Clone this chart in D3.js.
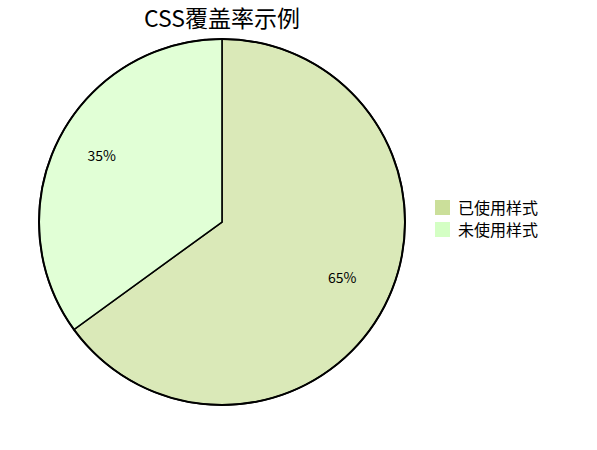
<!DOCTYPE html>
<html>
<head>
<meta charset="utf-8">
<script src="https://cdn.jsdelivr.net/npm/d3@7"></script>
<style>
  body { margin: 0; background: #fff; }
  text { font-family: "Noto Sans CJK SC", "Noto Sans", sans-serif; }
</style>
</head>
<body>
<div class="chart"></div>
<script>
// coverage data
var labels = ['已使用样式', '未使用样式'];
var values = [65, 35];
var colors = ['#cbdf9a', '#d4ffc4'];

var width = 597, height = 450;
var cx = 222, cy = 222, radius = 183;

var svg = d3.select('.chart')
  .append('svg')
    .attr('width', width)
    .attr('height', height);

svg.append('text')
  .attr('x', cx)
  .attr('y', 27)
  .attr('text-anchor', 'middle')
  .style('font-size', '23px')
  .text('CSS覆盖率示例');

var color = d3.scaleOrdinal().domain(labels).range(colors);

var pie = d3.pie().sort(null).value(function(d, i) { return values[i]; });
var arcs = pie(labels);

var arc = d3.arc().innerRadius(0).outerRadius(radius);
var labelArc = d3.arc().innerRadius(135).outerRadius(135);

var g = svg.append('g')
  .attr('transform', `translate(${cx}, ${cy})`);

g.selectAll('path.slice')
  .data(arcs)
  .enter().append('path')
    .attr('class', 'slice')
    .attr('d', arc)
    .style('fill', function(d) { return color(d.data); })
    .style('fill-opacity', 0.7)
    .style('stroke', '#000')
    .style('stroke-width', 1.5);

// outer rim a bit heavier
g.append('circle')
  .attr('r', radius)
  .style('fill', 'none')
  .style('stroke', '#000')
  .style('stroke-width', 2);

var total = d3.sum(values);
g.selectAll('text.pct')
  .data(arcs)
  .enter().append('text')
    .attr('class', 'pct')
    .attr('transform', function(d) { return `translate(${labelArc.centroid(d)})`; })
    .attr('text-anchor', 'middle')
    .style('font-size', '14px')
    .text(function(d) { return Math.round(d.value / total * 100) + '%'; });

var legend = svg.append('g')
  .attr('transform', 'translate(435, 200)');

var item = legend.selectAll('g')
  .data(labels)
  .enter().append('g')
    .attr('transform', function(d, i) { return `translate(0, ${i * 22})`; });

item.append('rect')
  .attr('width', 15)
  .attr('height', 15)
  .style('fill', function(d) { return color(d); });

item.append('text')
  .attr('x', 23)
  .attr('y', 14)
  .style('font-size', '16px')
  .text(function(d) { return d; });
</script>
</body>
</html>
